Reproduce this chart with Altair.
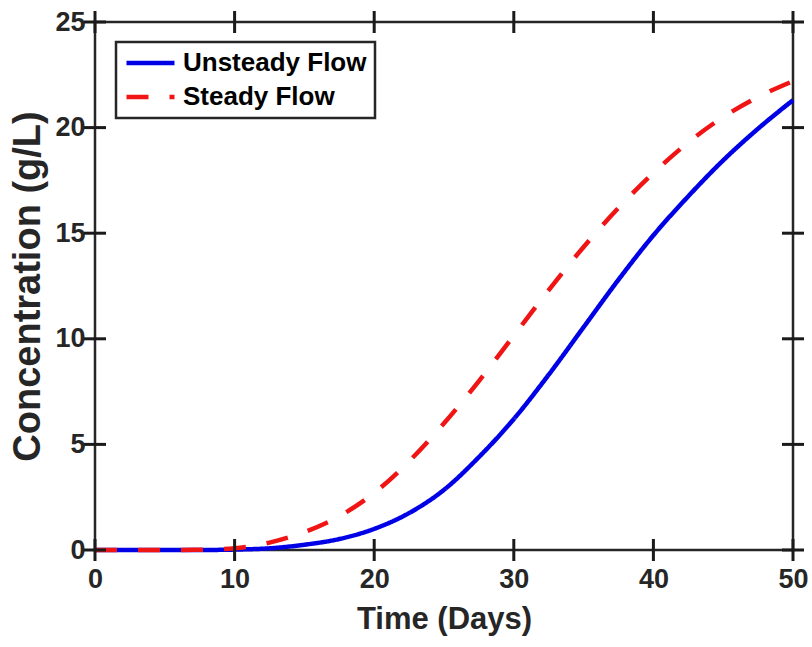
import altair as alt
import pandas as pd

# Data
days = [0, 2.5, 5, 7.5, 10, 12.5, 15, 17.5, 20, 22.5, 25, 27.5, 30, 32.5, 35, 37.5, 40, 42.5, 45, 47.5, 50]
unsteady = [0, 0, 0, 0, 0.02, 0.08, 0.25, 0.52, 1.0, 1.75, 2.85, 4.4, 6.2, 8.3, 10.55, 12.8, 14.9, 16.75, 18.45, 19.95, 21.3]
steady = [0, 0, 0, 0.01, 0.08, 0.35, 0.85, 1.6, 2.7, 4.2, 6.0, 8.0, 10.15, 12.3, 14.35, 16.2, 17.85, 19.3, 20.5, 21.45, 22.2]
series_names = ["Unsteady Flow", "Steady Flow"]
x_ticks = [0, 10, 20, 30, 40, 50]
y_ticks = [0, 5, 10, 15, 20, 25]

rows = []
for t, u in zip(days, unsteady):
    rows.append({"t": t, "c": u, "series": series_names[0]})
for t, s in zip(days, steady):
    rows.append({"t": t, "c": s, "series": series_names[1]})
df = pd.DataFrame(rows)
df_xt = pd.DataFrame({"t": x_ticks})
df_yt = pd.DataFrame({"c": y_ticks})

W, H = 698, 528
AX = "#262626"
FONT = "Liberation Sans"
TICK = 11

xs = alt.Scale(domain=[0, 50], nice=False, zero=False)
ys = alt.Scale(domain=[0, 25], nice=False, zero=False)

x_axis = alt.Axis(
    title="Time (Days)", values=x_ticks, ticks=False, domain=False, grid=False,
    labelFlush=False, labelFontSize=27, labelFont=FONT, labelFontWeight="bold",
    labelColor=AX, labelPadding=16, titleFontSize=31, titleFont=FONT,
    titleFontWeight="bold", titleColor=AX, titlePadding=12)
y_axis = alt.Axis(
    title="Concentration (g/L)", values=y_ticks, ticks=False, domain=False, grid=False,
    labelFlush=False, labelFontSize=27, labelFont=FONT, labelFontWeight="bold",
    labelColor=AX, labelPadding=10, titleFontSize=38, titleFont=FONT,
    titleFontWeight="bold", titleColor=AX, titlePadding=7)

X = alt.X("t:Q", scale=xs, axis=x_axis)
Y = alt.Y("c:Q", scale=ys, axis=y_axis)

# inward tick marks (MATLAB-style box)
tick_style = dict(color="#1a1a1a", thickness=3, size=2 * TICK, opacity=1)
xt_bottom = alt.Chart(df_xt).mark_tick(**tick_style).encode(x=X, y=alt.value(H))
xt_top = alt.Chart(df_xt).mark_tick(**tick_style).encode(x=X, y=alt.value(0))
yt_left = alt.Chart(df_yt).mark_tick(**tick_style).encode(y=Y, x=alt.value(0))
yt_right = alt.Chart(df_yt).mark_tick(**tick_style).encode(y=Y, x=alt.value(W))

lines = alt.Chart(df).mark_line(strokeWidth=4.5, interpolate="monotone").encode(
    x=X,
    y=Y,
    color=alt.Color("series:N", scale=alt.Scale(domain=series_names, range=["#0000e6", "#f01414"]),
                    legend=alt.Legend(title=None, orient="none", legendX=21, legendY=20,
                                      symbolType="stroke", symbolSize=2304, symbolStrokeWidth=4.5,
                                      clipHeight=26,
                                      labelFontSize=26, labelFont=FONT, labelFontWeight="bold",
                                      labelColor="#000000", labelOffset=6, rowPadding=8,
                                      padding=8, strokeColor=AX, fillColor="white",
                                      labelLimit=400)),
    strokeDash=alt.StrokeDash("series:N", scale=alt.Scale(domain=series_names, range=[[1, 0], [22, 21]]),
                              legend=alt.Legend(title=None, orient="none", legendX=21, legendY=20)),
    order="t:Q",
)

chart = alt.layer(lines, xt_bottom, xt_top, yt_left, yt_right).properties(
    width=W, height=H,
    autosize=alt.AutoSizeParams(type="none"),
    padding={"left": 95, "top": 22, "right": 19, "bottom": 97},
    background="white",
).configure_view(
    stroke=AX, strokeWidth=2.5, clip=False
).configure_legend(
    strokeWidth=2.5
)

chart.save("out.html", embed_options={"renderer": "svg", "actions": False})
